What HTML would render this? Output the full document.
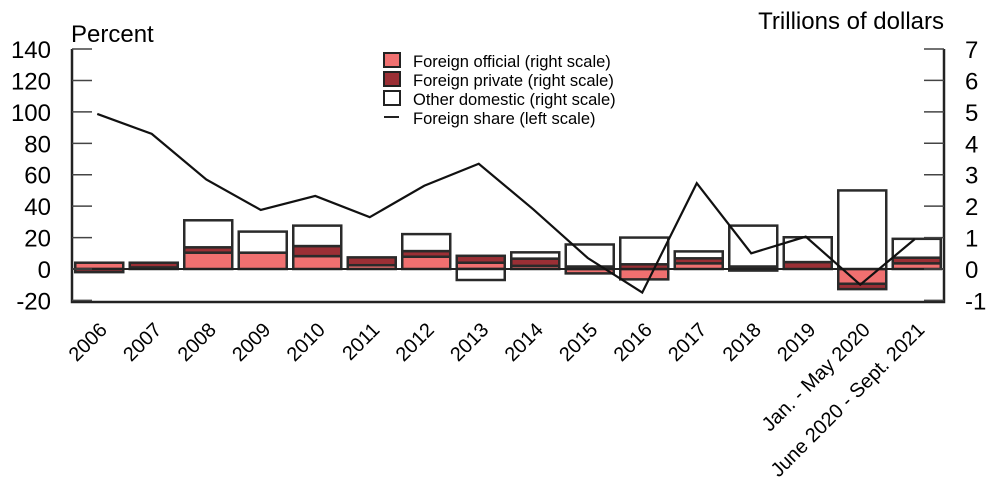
<!DOCTYPE html>
<html><head><meta charset="utf-8"><style>
body{margin:0;background:#fff;}
svg{font-family:"Liberation Sans",sans-serif;}
</style></head><body>
<svg id="c" width="1000" height="499">
<text x="71" y="42" font-size="24">Percent</text>
<text x="944" y="29" font-size="24" text-anchor="end">Trillions of dollars</text>
<g id="legend">
<rect x="384" y="53" width="16" height="14" fill="#f07070" stroke="#222" stroke-width="2"/>
<text x="413" y="67" font-size="16.5">Foreign official (right scale)</text>
<rect x="384" y="72" width="16" height="14" fill="#9b2f35" stroke="#222" stroke-width="2"/>
<text x="413" y="86" font-size="16.5">Foreign private (right scale)</text>
<rect x="384" y="91" width="16" height="14" fill="#fff" stroke="#222" stroke-width="2"/>
<text x="413" y="105" font-size="16.5">Other domestic (right scale)</text>
<line x1="384" y1="117" x2="399" y2="117" stroke="#222" stroke-width="2"/>
<text x="413" y="124" font-size="16.5">Foreign share (left scale)</text>
</g>
</svg>
<script>
const categories=["2006","2007","2008","2009","2010","2011","2012","2013","2014","2015","2016","2017","2018","2019","Jan. - May 2020","June 2020 - Sept. 2021"];
const official=[0.2,0.05,0.52,0.52,0.41,0.12,0.39,0.2,0.1,-0.14,-0.33,0.18,-0.05,0,-0.47,0.18];
const privateF=[-0.1,0.15,0.17,0,0.32,0.25,0.18,0.22,0.23,0.08,0.15,0.16,0.08,0.22,-0.17,0.18];
const domestic=[0,0,0.86,0.67,0.65,0,0.54,-0.35,0.2,0.7,0.85,0.22,1.3,0.79,2.5,0.6];
const share=[98.7,86,57,37.6,46.5,33,53,67,38,7,-15,54.6,10,20.6,-10,19];
const leftTicks=[-20,0,20,40,60,80,100,120,140];
const rightTicks=[-1,0,1,2,3,4,5,6,7];
const NS="http://www.w3.org/2000/svg";
const svg=document.getElementById('c');
const X0=72,X1=944,Y0=269,PXL=1.571,PXR=31.43;
const step=(X1-X0)/categories.length;
const xc=i=>X0+step*(i+0.5);
const yl=v=>Y0-v*PXL;
const yr=v=>Y0-v*PXR;
function mk(t,a){const e=document.createElementNS(NS,t);for(const k in a)e.setAttribute(k,a[k]);svg.appendChild(e);return e;}
const colors=["#f07070","#9b2f35","#ffffff"];
const series=[official,privateF,domestic];
const snames=["official","private","domestic"];
categories.forEach((c,i)=>{
  let pos=0,neg=0;
  series.forEach((s,k)=>{
    const v=s[i];if(v===0)return;
    let a,b;
    if(v>0){a=pos;b=pos+v;pos=b;}else{a=neg;b=neg+v;neg=b;}
    const r=mk('rect',{x:xc(i)-24,y:Math.min(yr(a),yr(b)),width:48,height:Math.abs(yr(a)-yr(b)),fill:colors[k],stroke:'#2a2a2a','stroke-width':2.5});
    
    
  });
});
const z=mk('line',{x1:X0,y1:Y0,x2:X1,y2:Y0,stroke:'#222','stroke-width':2});


const pl=mk('polyline',{points:share.map((v,i)=>(xc(i)-2)+','+yl(v)).join(' '),fill:'none',stroke:'#111','stroke-width':2.2});


const ax=mk('polyline',{points:`${X0},${yl(140)} ${X0},302 ${X1},302 ${X1},${yl(140)}`,fill:'none',stroke:'#222','stroke-width':2.5});


leftTicks.forEach(v=>{
  const l=mk('line',{x1:X0,y1:yl(v),x2:X0+20,y2:yl(v),stroke:'#444','stroke-width':1.5});
  
  
  const t=mk('text',{x:51,y:yl(v)+9,'font-size':24,'text-anchor':'end'});t.textContent=v;
  
  
});
rightTicks.forEach(v=>{
  const l=mk('line',{x1:X1-20,y1:yr(v),x2:X1,y2:yr(v),stroke:'#444','stroke-width':1.5});
  
  
  const t=mk('text',{x:965,y:yr(v)+9,'font-size':24});t.textContent=v;
  
  
});
categories.forEach((c,i)=>{
  const x=xc(i)+9,y=331;
  const t=mk('text',{x:x,y:y,'font-size':20,'text-anchor':'end',transform:`rotate(-45 ${x} ${y})`});t.textContent=c;
  
  
});
</script>
</body></html>
